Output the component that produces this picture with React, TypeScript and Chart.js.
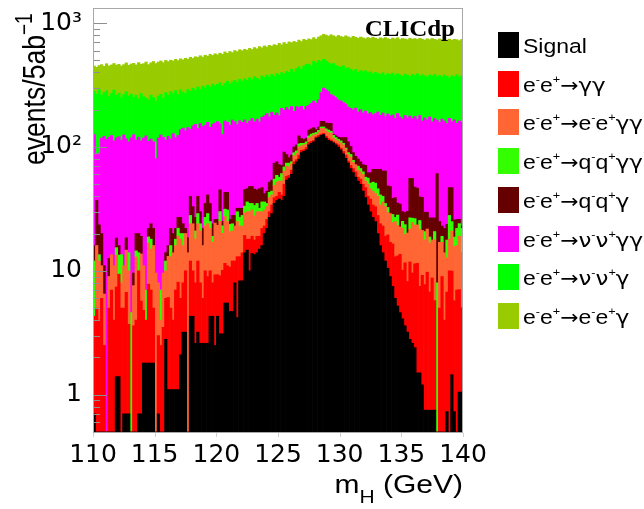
import React, { useEffect, useRef } from 'react';
import { Chart, registerables } from 'chart.js';

Chart.register(...registerables);

// ---- binning / axes ----
const BIN_START = 110;
const BIN_WIDTH = 0.2;
const X_MIN = 110;
const X_MAX = 140;
const Y_MIN = 0.5;
const Y_MAX = 1300;
const X_TICKS = [110, 115, 120, 125, 130, 135, 140];
const Y_MAJOR_TICKS = [1, 10, 100, 1000];
const Y_MAJOR_LABELS = ['1', '10', '10²', '10³'];
const Y_MINOR_TICKS = [0.6, 0.7, 0.8, 0.9, 2, 3, 4, 5, 6, 7, 8, 9, 20, 30, 40, 50, 60, 70, 80, 90, 200, 300, 400, 500, 600, 700, 800, 900];

// ---- series (events per 0.2 GeV bin, 150 bins from 110 to 140 GeV) ----
const SIGNAL = [
  0.7, 0, 0, 0, 0, 0, 0, 0, 0, 1.4,
  1.4, 0, 0.7, 0.7, 0.7, 0, 0, 0, 0.7, 0.7,
  1.8, 1.8, 1.8, 1.8, 1.8, 0, 0.7, 0, 0, 2.8,
  1.1, 1.1, 1.1, 1.1, 1.1, 2.1, 3.2, 3.2, 0, 4.3,
  4.3, 2.6, 3.2, 2.6, 2.6, 2.6, 2.6, 4.3, 4.3, 2.5,
  4.3, 3.1, 3.1, 5.5, 5.5, 4.7, 4.7, 8, 4.2, 8.3,
  8.3, 14, 14.7, 10, 13.8, 13.5, 14, 15, 16, 20,
  22, 27, 29, 35, 37, 38, 37, 40, 54, 56,
  60, 72, 76, 80, 90, 92, 95, 104, 107, 110,
  118, 120, 124, 126, 118, 113, 111, 108, 104, 100,
  95, 88, 81, 74, 67, 62, 57, 53, 50, 44,
  39, 34, 30, 27, 25, 20, 16, 14, 12, 10.5,
  9, 7.5, 6, 5.2, 4.6, 4.1, 3.6, 3.2, 2.8, 2.6,
  2.4, 1.5, 1.5, 1.2, 0.75, 0.75, 0.75, 0.75, 0.75, 0,
  0, 0, 0, 0.73, 0, 1.45, 0.73, 0, 1.05, 1.05,
];
const GAMGAM = [
  3.6, 5, 4, 6, 2.5, 0, 5, 7, 4, 6,
  8, 5, 4.3, 6, 3, 0, 3.6, 4, 9.3, 5,
  3, 2.2, 6, 5.2, 3.2, 0, 2.3, 2.5, 3.5, 3.2,
  5, 3.9, 2.9, 5.9, 7, 3.9, 4.8, 6.8, 0, 7.7,
  5.7, 5.4, 8.8, 5.4, 3.4, 7.4, 6.4, 5.7, 3.7, 6.8,
  5, 6, 7, 6, 5.5, 6, 7.3, 4, 8.8, 4.7,
  5.7, 5.3, 3.3, 8, 5.2, 4.2, 5, 4, 6, 3,
  4, 3, 5, 4, 3, 5, 4, 10, 4, 3,
  5, 4, 3, 6, 4, 3, 4, 5, 4, 3,
  3, 4, 3, 3, 4, 4, 3, 2, 3, 4,
  3, 4, 5, 3, 4, 5, 6, 4, 5, 6,
  8, 6, 8, 7, 8, 8, 8, 9, 7, 9,
  8, 9, 7, 8, 9, 6, 8, 5, 9, 7,
  9, 10, 6, 8, 7, 9, 6, 8, 5, 0,
  5, 9, 4, 6, 10, 8.5, 5, 7, 6, 4,
];
const EE_GAMGAM = [
  0, 11, 8, 5, 4, 0, 4, 6.5, 7, 6,
  0, 3, 6, 8, 6.3, 0, 4, 9, 0, 8,
  6.2, 0, 9, 8, 11, 9.6, 5, 1.5, 6.1, 4,
  7, 8, 10, 9, 11, 12, 8, 10, 14, 12,
  14, 10, 12, 13, 10, 13, 15, 12, 9, 15,
  14, 16, 10, 16, 14, 10, 9, 11, 12, 10,
  9, 10, 12, 12, 12, 10, 11, 11, 8, 8,
  7, 9, 7, 10, 12, 10, 12, 14, 12, 10,
  8, 9, 10, 14, 8, 9, 7, 9, 10, 12,
  6, 7, 14, 12, 13, 14, 15, 8, 7, 8,
  10, 12, 10, 10, 12, 8, 9, 8, 8, 10,
  6, 10, 8, 10, 9, 12, 10, 13, 14, 10,
  12, 8, 12, 10, 9, 12, 8, 12, 10, 15,
  12, 12, 14, 12, 10, 12, 10, 9, 12, 0,
  12, 8, 10, 6, 8, 11, 10, 9, 12, 9,
];
const QQ_GAMGAM = [
  7.7, 0, 1.5, 0, 0, 0, 0, 0, 0, 2,
  4, 5.5, 0, 0, 4, 4.6, 0, 1.5, 4, 0,
  0, 3, 2, 3, 0, 0, 0, 3, 0, 2,
  0, 3, 0, 2, 3, 2, 4, 0, 0, 4,
  0, 3, 5, 3, 0, 4, 5, 3, 2, 0,
  0, 5, 3, 4, 6, 3, 3, 0, 5, 4,
  5, 4, 6, 5, 4, 6, 5, 2, 6, 5,
  2, 4, 3, 6, 7, 4, 8, 5, 4, 5,
  3, 5, 4, 6, 5, 3, 4, 5, 6, 4,
  4, 5, 4, 4, 5, 6, 5, 6, 5, 3,
  4, 3, 2, 3, 4, 3, 0, 5, 4, 3,
  4, 6, 5, 8, 9, 6, 7, 4, 2, 3,
  0, 4, 2, 5, 0, 3, 4, 0, 5, 2,
  3, 0, 4, 0, 3, 0, 2, 0, 3, 8,
  0, 2, 0, 5, 10, 4, 3, 6, 5, 8,
];
const QQ_GAM = [
  4, 21, 10, 9, 4.5, 0, 3.6, 0, 0, 3,
  2.6, 0, 0, 3.8, 0, 0, 2, 5.5, 6, 5.3,
  0, 0, 3.2, 6, 6, 0, 0, 0, 0, 2,
  2.9, 6, 6, 4, 4.9, 7, 4, 2, 4.5, 12,
  9, 6, 11, 6, 6, 8, 12, 10, 5, 1.7,
  2.7, 15, 2, 11.5, 12, 2.3, 4, 5, 2, 5,
  4, 12, 10, 13, 13, 12, 10, 14, 11, 6,
  9, 9, 10, 19, 17, 15, 10, 22, 13, 8,
  10, 10, 11, 17, 10, 8, 8, 14, 13, 14,
  7, 9, 16, 16, 16, 18, 21, 2, 4, 5,
  7, 12, 21, 20, 14, 12, 12, 10, 9, 9,
  14, 6, 11, 14, 15, 20, 25, 24, 29, 16,
  19, 10, 12, 7, 12, 5, 6, 10, 29, 29,
  21, 23, 14, 18, 9, 8, 8, 9, 6, 53,
  8, 4, 8, 6, 19, 22, 7, 4, 2, 1,
];
const NUNU_GAMGAM = [
  110, 50, 66, 98, 111, 115, 107, 110, 101, 100,
  105, 100, 114, 98, 96, 114, 116, 94, 100, 93,
  107, 116, 89, 92, 88, 71, 110, 118, 110, 100,
  106, 94, 108, 97, 97, 111, 118, 113, 125, 99,
  115, 125, 101, 125, 124, 115, 117, 109, 129, 130,
  134, 109, 101, 119, 115, 124, 137, 132, 120, 131,
  126, 120, 109, 114, 122, 114, 123, 113, 127, 137,
  142, 123, 137, 106, 112, 107, 134, 107, 121, 118,
  126, 94, 108, 85, 96, 85, 95, 80, 85, 92,
  88, 95, 114, 138, 134, 125, 110, 132, 127, 120,
  117, 109, 103, 100, 104, 108, 122, 112, 124, 116,
  124, 123, 128, 116, 120, 126, 114, 124, 112, 136,
  130, 143, 131, 151, 140, 138, 150, 142, 122, 114,
  129, 121, 140, 123, 142, 136, 148, 133, 143, 104,
  133, 145, 140, 131, 123, 113, 140, 129, 136, 135,
];
const NUNU_GAM = [
  156, 181, 200, 144, 153, 170, 135, 146, 176, 142,
  151, 137, 140, 163, 148, 149, 126, 148, 125, 158,
  137, 125, 129, 146, 140, 155, 140, 141, 128, 161,
  140, 164, 142, 166, 141, 152, 136, 135, 148, 143,
  150, 133, 164, 137, 164, 150, 157, 161, 169, 156,
  160, 176, 184, 164, 182, 172, 170, 185, 178, 189,
  182, 189, 190, 200, 180, 210, 190, 190, 200, 185,
  195, 192, 195, 193, 204, 202, 193, 192, 200, 200,
  212, 210, 218, 236, 210, 250, 252, 250, 230, 258,
  250, 260, 213, 211, 205, 200, 203, 214, 205, 208,
  204, 224, 208, 226, 220, 212, 216, 208, 215, 217,
  217, 213, 215, 208, 214, 200, 205, 210, 204, 207,
  207, 213, 208, 204, 207, 204, 208, 208, 192, 216,
  202, 222, 192, 222, 204, 200, 207, 214, 216, 205,
  220, 200, 220, 217, 190, 216, 204, 229, 204, 217,
];
const EE_GAM = [
  168, 172, 165, 200, 173, 185, 197, 190, 184, 198,
  193, 200, 197, 198, 198, 200, 222, 198, 235, 196,
  215, 237, 222, 216, 240, 236, 227, 229, 232, 225,
  226, 222, 225, 225, 233, 225, 227, 250, 220, 248,
  220, 250, 223, 253, 222, 250, 225, 255, 226, 253,
  235, 242, 250, 259, 230, 268, 243, 255, 258, 258,
  258, 260, 260, 263, 262, 265, 262, 297, 258, 290,
  260, 294, 265, 297, 268, 305, 270, 307, 270, 305,
  270, 307, 270, 285, 287, 290, 260, 278, 280, 270,
  267, 272, 302, 302, 305, 305, 337, 318, 320, 347,
  340, 318, 360, 339, 335, 372, 346, 355, 357, 355,
  336, 367, 347, 380, 355, 350, 375, 350, 385, 358,
  355, 363, 367, 372, 356, 380, 357, 355, 385, 356,
  372, 348, 383, 358, 354, 382, 354, 378, 354, 360,
  367, 367, 366, 358, 382, 352, 370, 351, 356, 363,
];

const SERIES_LABELS = [
  'Signal',
  'e⁻e⁺→γγ',
  'e⁻e⁺→e⁻e⁺γγ',
  'e⁻e⁺→q⁻q⁺γγ',
  'e⁻e⁺→q⁻q⁺γ',
  'e⁻e⁺→ν⁻ν⁺γγ',
  'e⁻e⁺→ν⁻ν⁺γ',
  'e⁻e⁺→e⁻e⁺γ',
];
const SERIES_VALUES = [SIGNAL, GAMGAM, EE_GAMGAM, QQ_GAMGAM, QQ_GAM, NUNU_GAMGAM, NUNU_GAM, EE_GAM];
const SERIES_COLORS = ['#000000', '#ff0000', '#ff6633', '#33ff00', '#660000', '#ff00ff', '#00ff00', '#99cc00'];

const X_TITLE_MAIN = 'm';
const X_TITLE_SUB = 'H';
const X_TITLE_UNIT = ' (GeV)';
const Y_TITLE = 'events/5ab⁻¹';
const TAG = 'CLICdp';

const SANS = "'Liberation Sans', Arial, sans-serif";
const ALT = "'DejaVu Sans', sans-serif";
const TICK_FONT = "'DejaVu Sans', sans-serif";

const SUPER: Record<string, string> = { '⁻': '-', '⁺': '+', '¹': '1', '²': '2', '³': '3' };
const ALT_CHARS = '→γν';

type Seg = { t: string; kind: 'n' | 's' | 'a' };

function richSegments(text: string) {
  const segs: Seg[] = [];
  for (const ch of Array.from(text)) {
    const s = SUPER[ch];
    let kind: Seg['kind'] = 'n';
    let t = ch;
    if (s !== undefined) {
      kind = 's';
      t = s;
    } else if (ALT_CHARS.includes(ch)) {
      kind = 'a';
    }
    const last = segs[segs.length - 1];
    if (last && last.kind === kind) last.t += t;
    else segs.push({ t, kind });
  }
  return segs;
}

function drawRich(ctx: CanvasRenderingContext2D, text: string, x: number, y: number, size: number, family: string, supScale: number, raise: number, minus: string, arrowScale: number) {
  let cx = x;
  for (const s of richSegments(text)) {
    if (s.kind === 's') {
      ctx.font = `${size * supScale}px ${family}`;
      const t = s.t.replace(/-/g, minus);
      ctx.fillText(t, cx, y - size * raise);
      cx += ctx.measureText(t).width;
    } else if (s.kind === 'a') {
      for (const ch of Array.from(s.t)) {
        const fs = ch === '→' ? size * arrowScale : size;
        ctx.font = `${fs}px ${ALT}`;
        ctx.fillText(ch, cx, y);
        cx += ctx.measureText(ch).width;
      }
    } else {
      ctx.font = `${size}px ${family}`;
      ctx.fillText(s.t, cx, y);
      cx += ctx.measureText(s.t).width;
    }
  }
  return cx - x;
}

const rootStyle = {
  id: 'rootStyle',
  afterDatasetsDraw(chart: any) {
    const { ctx, chartArea: a, scales } = chart;
    const ys = scales.y;
    const xs = scales.x;
    ctx.save();
    // inward y ticks
    ctx.strokeStyle = '#8e8e8e';
    ctx.lineWidth = 1;
    ctx.beginPath();
    for (const v of Y_MINOR_TICKS) {
      const py = Math.round(ys.getPixelForValue(v)) + 0.5;
      ctx.moveTo(a.left, py);
      ctx.lineTo(a.left + 7, py);
    }
    for (const v of Y_MAJOR_TICKS) {
      const py = Math.round(ys.getPixelForValue(v)) + 0.5;
      ctx.moveTo(a.left, py);
      ctx.lineTo(a.left + 14, py);
    }
    ctx.stroke();
    // small x ticks below the frame
    ctx.strokeStyle = '#d0d0d0';
    ctx.beginPath();
    for (const v of X_TICKS) {
      const px = Math.round(xs.getPixelForValue(v)) + 0.5;
      ctx.moveTo(px, a.bottom + 1);
      ctx.lineTo(px, a.bottom + 5);
    }
    ctx.stroke();
    // frame
    ctx.strokeStyle = '#a8a8a8';
    ctx.strokeRect(Math.round(a.left) + 0.5, Math.round(a.top) - 0.5, Math.round(a.right - a.left) - 1, Math.round(a.bottom - a.top) + 1);
    ctx.restore();
  },
  afterDraw(chart: any) {
    const { ctx, chartArea: a } = chart;
    ctx.save();
    ctx.fillStyle = '#000';
    ctx.textAlign = 'left';
    ctx.textBaseline = 'alphabetic';

    // CLICdp tag
    ctx.save();
    ctx.translate(a.right - 8, 36);
    ctx.scale(1, 0.95);
    ctx.font = "bold 25px 'Liberation Serif', 'DejaVu Serif', serif";
    ctx.textAlign = 'right';
    ctx.fillText(TAG, 0, 0);
    ctx.restore();

    // y title
    ctx.save();
    ctx.translate(45, 165);
    ctx.rotate(-Math.PI / 2);
    ctx.scale(0.83, 1);
    drawRich(ctx, Y_TITLE, 0, 0, 32, SANS, 0.72, 0.42, '−', 1);
    ctx.restore();

    // x title with subscript
    ctx.save();
    ctx.translate(a.right, 493);
    ctx.scale(1, 0.85);
    ctx.font = `30px ${SANS}`;
    const wm = ctx.measureText(X_TITLE_MAIN).width;
    const wu = ctx.measureText(X_TITLE_UNIT).width;
    ctx.font = `21px ${SANS}`;
    const wh = ctx.measureText(X_TITLE_SUB).width;
    const x0 = -(wm + wh + wu);
    ctx.font = `30px ${SANS}`;
    ctx.fillText(X_TITLE_MAIN, x0, 0);
    ctx.fillText(X_TITLE_UNIT, x0 + wm + wh, 0);
    ctx.font = `21px ${SANS}`;
    ctx.fillText(X_TITLE_SUB, x0 + wm, 12);
    ctx.restore();

    // legend
    chart.data.datasets.forEach((ds: any, k: number) => {
      const top = 32 + k * 38.7;
      ctx.fillStyle = ds.backgroundColor;
      ctx.fillRect(498, Math.round(top), 21, 26);
      ctx.fillStyle = '#000';
      ctx.save();
      ctx.translate(523, Math.round(top) + 21);
      ctx.scale(1, 0.88);
      drawRich(ctx, ds.label, 0, 0, 23, SANS, 0.55, 0.42, '-', 0.95);
      ctx.restore();
    });
    ctx.restore();
  },
};

export default function App() {
  const ref = useRef<HTMLCanvasElement | null>(null);

  useEffect(() => {
    if (!ref.current) return;
    const centers = SIGNAL.map((_, i) => BIN_START + BIN_WIDTH * (i + 0.5));
    const datasets = SERIES_VALUES.map((vals, k) => ({
      label: SERIES_LABELS[k],
      data: vals.map((v, i) => ({ x: centers[i], y: v })),
      backgroundColor: SERIES_COLORS[k],
      borderWidth: 0,
      barPercentage: 1,
      categoryPercentage: 1,
      inflateAmount: 0.35,
      stack: 'all',
    }));
    const chart = new Chart(ref.current, {
      type: 'bar',
      data: { datasets } as any,
      options: {
        animation: false,
        responsive: false,
        devicePixelRatio: 1,
        layout: { padding: { top: 9, right: 181, left: 0, bottom: 0 } },
        plugins: { legend: { display: false }, tooltip: { enabled: false } },
        scales: {
          x: {
            type: 'linear',
            min: X_MIN,
            max: X_MAX,
            offset: false,
            stacked: true,
            grid: { display: false, drawTicks: false },
            border: { display: false },
            afterBuildTicks: (s: any) => {
              s.ticks = X_TICKS.map((v) => ({ value: v }));
            },
            afterFit: (s: any) => {
              s.height = 77;
              s.paddingLeft = 0;
              s.paddingRight = 0;
            },
            ticks: {
              autoSkip: false,
              maxRotation: 0,
              padding: 8,
              color: '#000',
              font: { family: TICK_FONT, size: 25 },
              callback: (v: any) => String(v),
            },
          },
          y: {
            type: 'logarithmic',
            min: Y_MIN,
            max: Y_MAX,
            stacked: true,
            grid: { display: false, drawTicks: false },
            border: { display: false },
            afterBuildTicks: (s: any) => {
              s.ticks = Y_MAJOR_TICKS.map((v) => ({ value: v }));
            },
            afterFit: (s: any) => {
              s.width = 93;
              s.paddingTop = 0;
              s.paddingBottom = 0;
            },
            ticks: {
              autoSkip: false,
              padding: 11,
              color: '#000',
              font: { family: TICK_FONT, size: 25 },
              callback: (v: any) => {
                const i = Y_MAJOR_TICKS.indexOf(Number(v));
                return i >= 0 ? Y_MAJOR_LABELS[i] : '';
              },
            },
          },
        },
      } as any,
      plugins: [rootStyle],
    });
    return () => chart.destroy();
  }, []);

  return (
    <div style={{ position: 'fixed', left: 0, top: 0, width: 644, height: 509, background: '#fff' }}>
      <canvas ref={ref} width={644} height={509} style={{ width: 644, height: 509, display: 'block' }} />
    </div>
  );
}
